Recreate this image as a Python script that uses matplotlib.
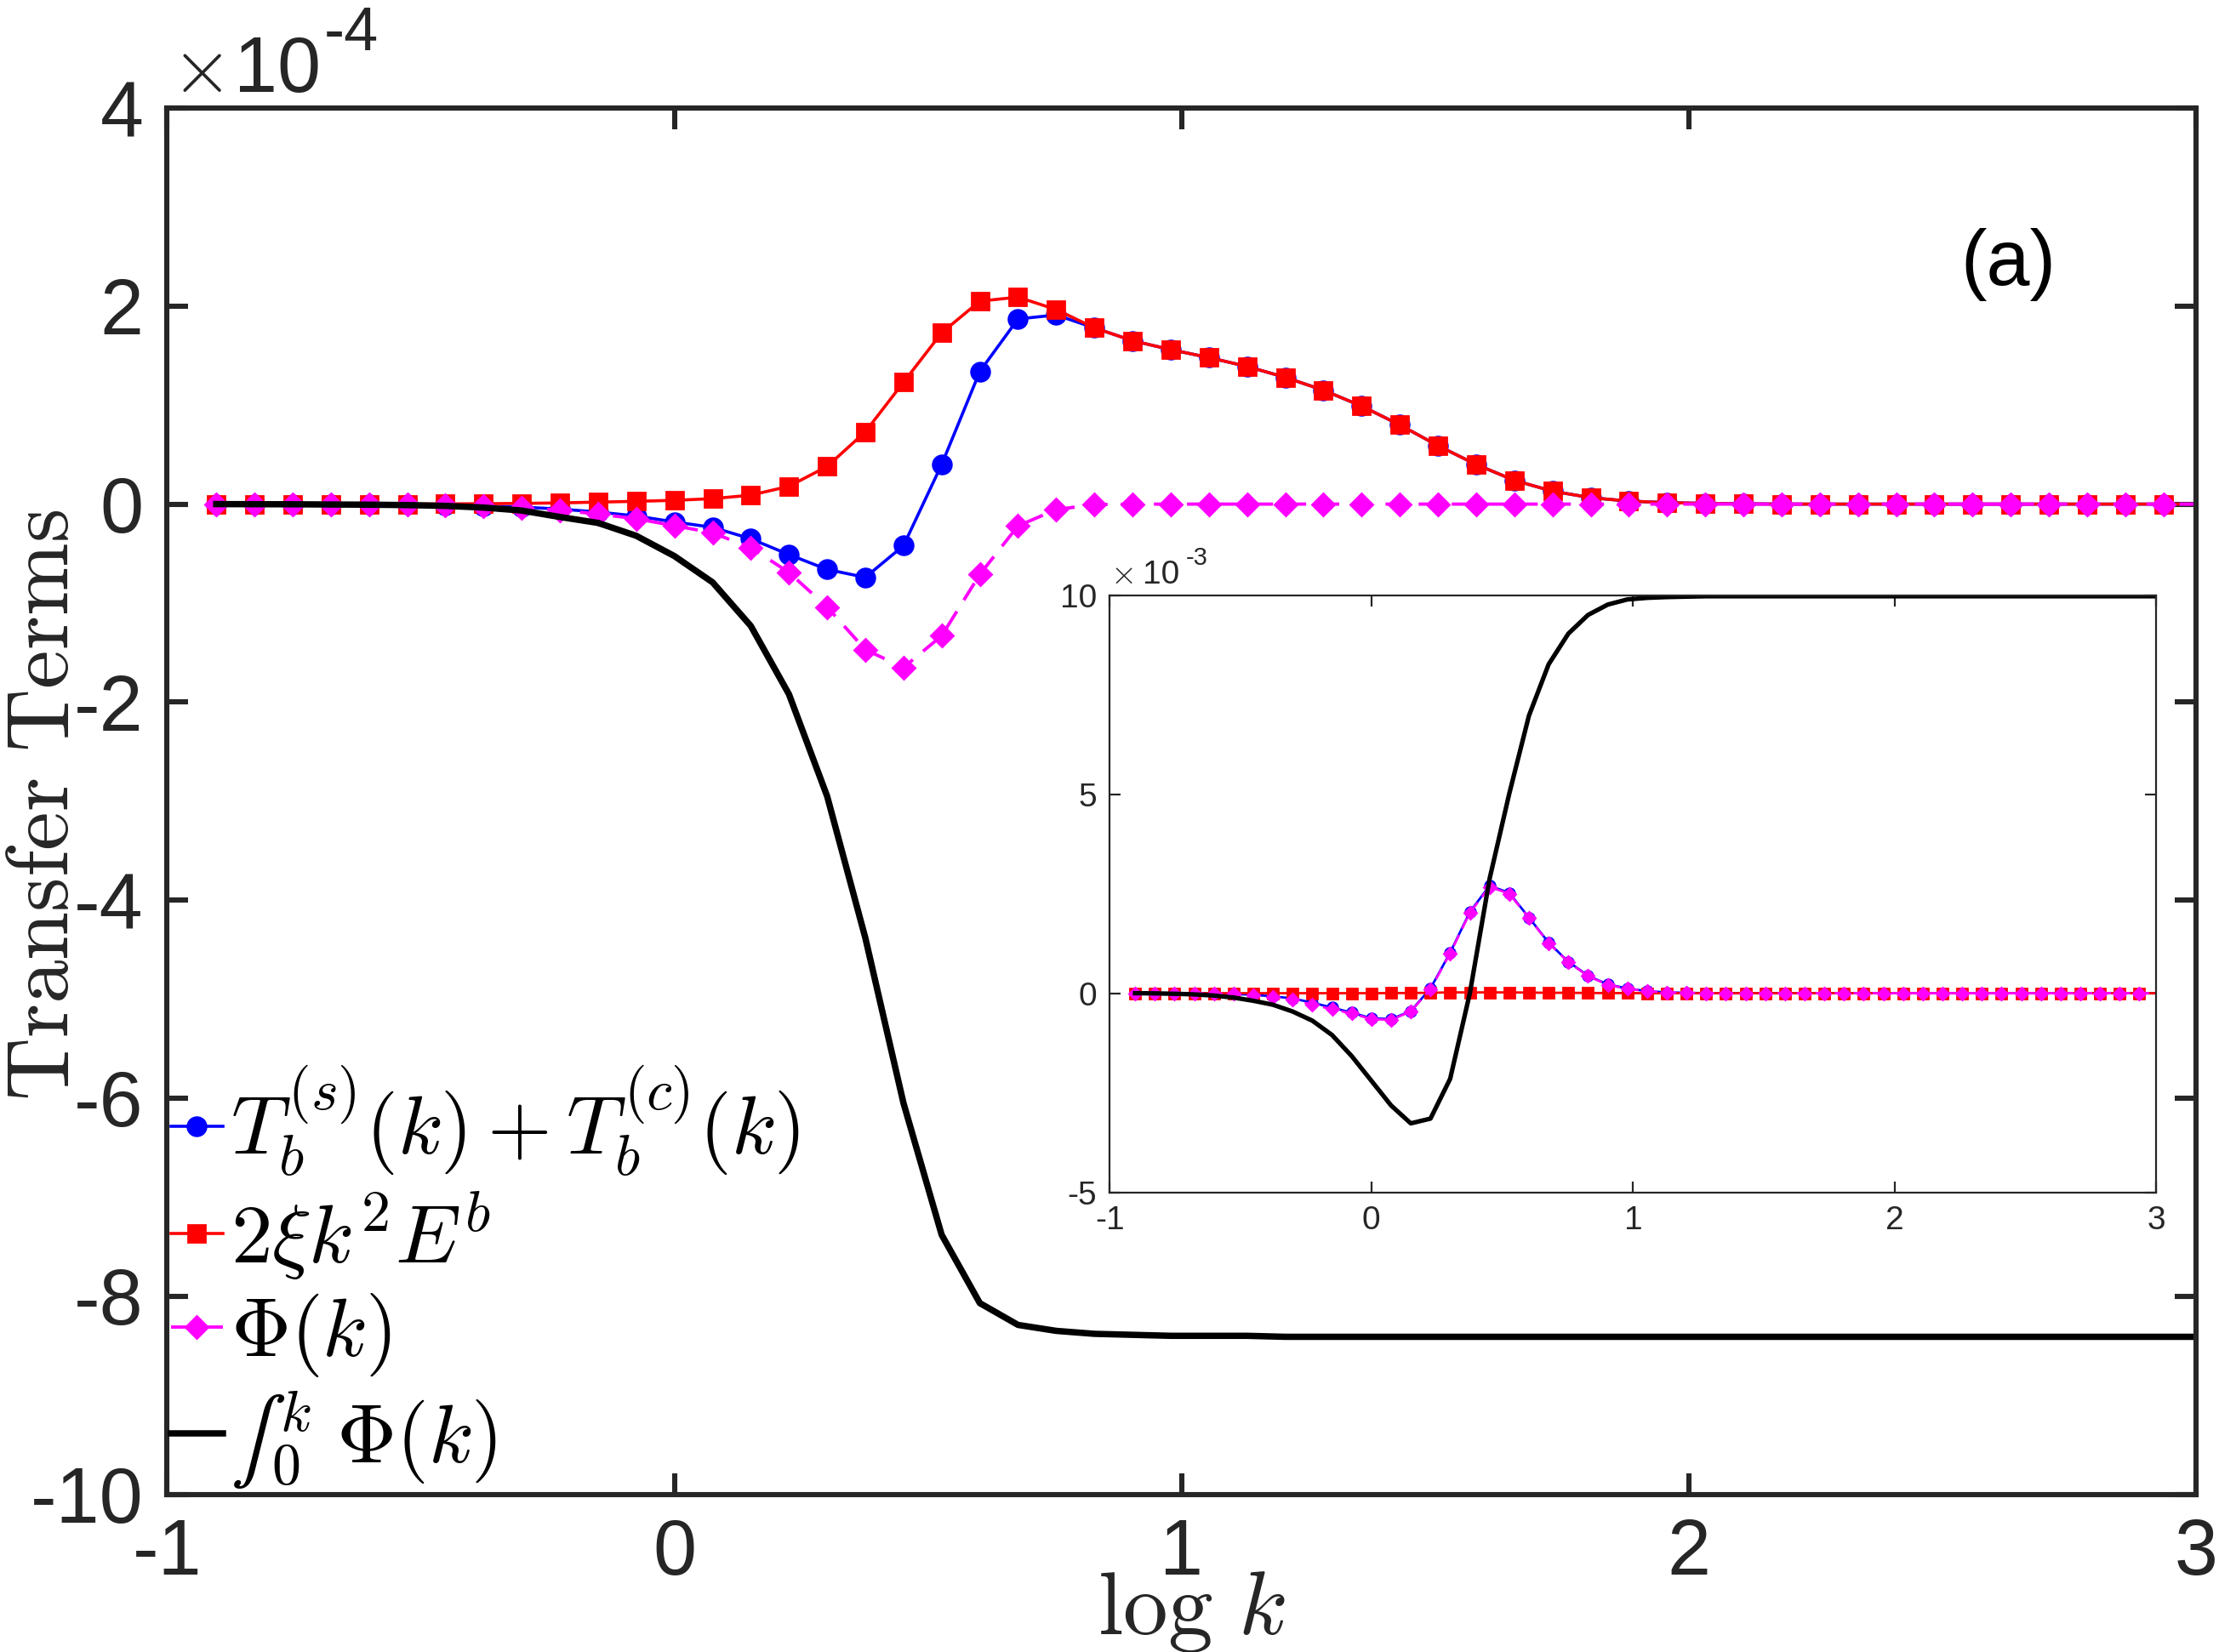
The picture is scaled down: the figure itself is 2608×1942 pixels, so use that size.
import numpy as np
import matplotlib
matplotlib.use("Agg")
import matplotlib.pyplot as plt
from matplotlib.ticker import FixedLocator, FuncFormatter

plt.rcParams["font.family"] = ["Liberation Sans", "DejaVu Sans"]
plt.rcParams["mathtext.fontset"] = "cm"
plt.rcParams["axes.unicode_minus"] = False

# wavenumber grid: k = 2^(n/4), n = -12 .. 40 (last point just past log k = 3)
logk = np.log10(2.0 ** (np.arange(-12, 41) / 4.0))

# main panel, values in units of 1e-4
tb_main = [0, 0, 0, 0, 0, -0.005, -0.01, -0.02, -0.03, -0.05,
           -0.08, -0.12, -0.18, -0.235, -0.35, -0.51, -0.66, -0.74, -0.42, 0.40,
           1.34, 1.87, 1.91, 1.78, 1.65, 1.56, 1.48, 1.39, 1.28, 1.15,
           0.99, 0.80, 0.59, 0.40, 0.24, 0.13, 0.065, 0.03, 0.015, 0.007,
           0.003, 0, 0, 0, 0, 0, 0, 0, 0, 0, 0, 0, 0]
diss_main = [0, 0, 0, 0, 0, 0, 0.002, 0.004, 0.007, 0.012,
             0.02, 0.028, 0.038, 0.055, 0.09, 0.18, 0.38, 0.73, 1.23, 1.73,
             2.05, 2.09, 1.965, 1.78, 1.65, 1.56, 1.48, 1.39, 1.28, 1.15,
             0.99, 0.80, 0.59, 0.40, 0.24, 0.13, 0.065, 0.03, 0.015, 0.007,
             0.003, 0, 0, 0, 0, 0, 0, 0, 0, 0, 0, 0, 0]
phi_main = [0, 0, 0, 0, 0, -0.005, -0.012, -0.024, -0.037, -0.062,
            -0.10, -0.148, -0.218, -0.29, -0.44, -0.69, -1.04, -1.47, -1.65, -1.33,
            -0.71, -0.22, -0.055, -0.005, 0, 0, 0, 0, 0, 0,
            0, 0, 0, 0, 0, 0, 0, 0, 0, 0, 0, 0, 0, 0, 0, 0, 0, 0, 0, 0, 0, 0, 0]
cum_main = [0, -0.001, -0.002, -0.004, -0.006, -0.01, -0.018, -0.035, -0.065, -0.13,
            -0.19, -0.32, -0.525, -0.79, -1.23, -1.92, -2.95, -4.38, -6.05, -7.38,
            -8.07, -8.29, -8.35, -8.38, -8.39, -8.40, -8.40, -8.40, -8.41, -8.41,
            -8.41, -8.41, -8.41, -8.41, -8.41, -8.41, -8.41, -8.41, -8.41, -8.41,
            -8.41, -8.41, -8.41, -8.41, -8.41, -8.41, -8.41, -8.41, -8.41, -8.41,
            -8.41, -8.41, -8.41]

# inset, values in units of 1e-3
tb_ins = [0, 0, 0, 0, -0.01, -0.02, -0.04, -0.08, -0.13, -0.24,
          -0.36, -0.49, -0.63, -0.65, -0.45, 0.12, 1.02, 2.04, 2.70, 2.52,
          1.90, 1.27, 0.79, 0.44, 0.22, 0.12, 0.05, 0.02, 0.01, 0,
          0, 0, 0, 0, 0, 0, 0, 0, 0, 0, 0, 0, 0, 0, 0, 0, 0, 0, 0, 0, 0, 0, 0]
diss_ins = [0, 0, 0, 0, 0, 0, 0, 0, 0, 0,
            0, 0, 0, 0.002, 0.005, 0.01, 0.02, 0.02, 0.02, 0.02,
            0.015, 0.01, 0.01, 0.005, 0.003, 0.002, 0, 0, 0, 0,
            0, 0, 0, 0, 0, 0, 0, 0, 0, 0, 0, 0, 0, 0, 0, 0, 0, 0, 0, 0, 0, 0, 0]
phi_ins = [0, 0, 0, 0, -0.01, -0.02, -0.05, -0.10, -0.17, -0.29,
           -0.40, -0.51, -0.65, -0.67, -0.46, 0.10, 1.00, 2.02, 2.67, 2.50,
           1.89, 1.26, 0.78, 0.43, 0.21, 0.11, 0.05, 0.02, 0.01, 0,
           0, 0, 0, 0, 0, 0, 0, 0, 0, 0, 0, 0, 0, 0, 0, 0, 0, 0, 0, 0, 0, 0, 0]
cum_ins = [0, -0.005, -0.015, -0.03, -0.06, -0.11, -0.19, -0.29, -0.46, -0.69,
           -1.05, -1.58, -2.20, -2.82, -3.27, -3.15, -2.15, 0.0, 2.87, 5.01,
           6.97, 8.26, 9.03, 9.50, 9.76, 9.89, 9.93, 9.95, 9.96, 9.97,
           9.97, 9.97, 9.97, 9.97, 9.97, 9.97, 9.97, 9.97, 9.97, 9.97,
           9.97, 9.97, 9.97, 9.97, 9.97, 9.97, 9.97, 9.97, 9.97, 9.97,
           9.97, 9.97, 9.97]

labels = [r"$T_b^{(s)}(k)+T_b^{(c)}(k)$", r"$2\xi k^2 E^b$",
          r"$\Phi(k)$", "$\u222b_0^{\\,k}\\;\\Phi(k)$"]

xticks = [-1, 0, 1, 2, 3]
yticks_main = [-10, -8, -6, -4, -2, 0, 2, 4]
yticks_ins = [-5, 0, 5, 10]

AX_COL = "#262626"
marks = list(range(len(logk) - 1))  # MATLAB drops the clipped end marker


def style_axes(ax, fs, lw, tl, pad):
    for s in ax.spines.values():
        s.set_linewidth(lw)
        s.set_color(AX_COL)
    ax.tick_params(direction="in", top=True, right=True, length=tl, width=lw,
                   color=AX_COL, labelcolor=AX_COL, labelsize=fs, pad=pad)
    ax.xaxis.set_major_locator(FixedLocator(xticks))
    ax.xaxis.set_major_formatter(FuncFormatter(lambda v, p: f"{v:g}"))
    ax.yaxis.set_major_formatter(FuncFormatter(lambda v, p: f"{v:g}"))


def exponent(ax, x0, x1, x2, y0, y1, fs, fs_sup, text):
    # MATLAB style "x10^n" multiplier above the top-left corner
    ax.text(x0, y0, r"$\times$", transform=ax.transAxes, fontsize=fs,
            color=AX_COL, va="baseline", ha="left")
    ax.text(x1, y0, "10", transform=ax.transAxes, fontsize=fs,
            color=AX_COL, va="baseline", ha="left")
    ax.text(x2, y1, text, transform=ax.transAxes, fontsize=fs_sup,
            color=AX_COL, va="baseline", ha="left")


fig = plt.figure(figsize=(13.04, 9.71), dpi=200)
ax = fig.add_axes([0.0753, 0.0955, 0.9145, 0.8391])

ax.plot(logk, tb_main, "-o", color="#0000FF", lw=1.3, ms=7.8, markevery=marks,
        label=labels[0])
ax.plot(logk, diss_main, "-s", color="#FF0000", lw=1.3, ms=7.2, markevery=marks,
        label=labels[1])
ax.plot(logk, phi_main, "D", ls=(0, (6, 4)), color="#FF00FF", lw=1.4, ms=6.4,
        markevery=marks, label=labels[2])
ax.plot(logk, cum_main, "-", color="black", lw=2.7, label=labels[3])

ax.set_xlim(-1, 3)
ax.set_ylim(-10, 4)
style_axes(ax, 33, 2.2, 9, 10)
ax.yaxis.set_major_locator(FixedLocator(yticks_main))

ax.set_xlabel(r"$\log\,k$", fontsize=38, color=AX_COL)
ax.xaxis.set_label_coords(0.505, -0.101)
ax.xaxis.label.set_verticalalignment("baseline")
ax.set_ylabel(r"$\mathrm{Transfer\ Terms}$", fontsize=37, color=AX_COL)
ax.yaxis.set_label_coords(-0.049, 0.497)
ax.yaxis.label.set_verticalalignment("baseline")

exponent(ax, 0.002, 0.033, 0.0775, 1.0117, 1.0417, 33, 26, "-4")
ax.text(2.535, 2.42, "(a)", fontsize=33, va="center", ha="left", color="black")

leg = ax.legend(loc="lower left", bbox_to_anchor=(0.0, 0.0), frameon=False,
                fontsize=35, handlelength=0.62, handletextpad=0.1,
                labelspacing=0.12, borderaxespad=0.0, borderpad=0.05,
                numpoints=1)

# inset
axi = fig.add_axes([0.5001, 0.2783, 0.4717, 0.3615])
axi.plot(logk, tb_ins, "-o", color="#0000FF", lw=1.0, ms=4.2, markevery=marks)
axi.plot(logk, diss_ins, "-s", color="#FF0000", lw=1.0, ms=4.0, markevery=marks)
axi.plot(logk, phi_ins, "D", ls=(0, (5, 3)), color="#FF00FF", lw=1.0, ms=3.6,
         markevery=marks)
axi.plot(logk, cum_ins, "-", color="black", lw=1.9)
axi.set_xlim(-1, 3)
axi.set_ylim(-5, 10)
style_axes(axi, 14, 0.8, 4.6, 5.5)
axi.yaxis.set_major_locator(FixedLocator(yticks_ins))
exponent(axi, 0.001, 0.0315, 0.073, 1.019, 1.050, 14, 10.5, "-3")

fig.savefig("out.png", dpi=200)
